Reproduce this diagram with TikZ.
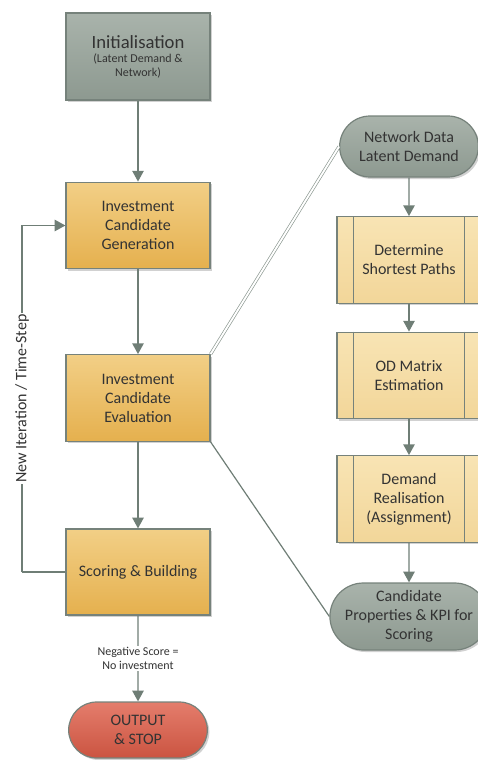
\documentclass[tikz,border=0pt]{standalone}
\usepackage{fontspec}
\setmainfont{Carlito}
\usetikzlibrary{shapes.misc,arrows.meta,shadows}
\definecolor{bordc}{HTML}{76827B}
\definecolor{conc}{HTML}{6F7E76}
\definecolor{txtc}{HTML}{333333}
\definecolor{greyT}{HTML}{A9B3AB}
\definecolor{greyB}{HTML}{8D9990}
\definecolor{orT}{HTML}{F2CF86}
\definecolor{orB}{HTML}{E5B04E}
\definecolor{subT}{HTML}{F8E4B4}
\definecolor{subB}{HTML}{F2D699}
\definecolor{redT}{HTML}{E47D6C}
\definecolor{redB}{HTML}{CB5441}
\tikzset{
  base/.style={draw=bordc, line width=0.9pt, align=center, text=txtc,
    font=\fontsize{12}{14.3}\selectfont, inner sep=2pt,
    drop shadow={shadow xshift=1.5pt, shadow yshift=-1.5pt, opacity=0.3, fill=black!60}},
  greybox/.style={base, rectangle, minimum width=108pt, top color=greyT, bottom color=greyB},
  orangebox/.style={base, rectangle, minimum width=108pt, minimum height=65pt, top color=orT, bottom color=orB},
  subbox/.style={base, rectangle, minimum width=108pt, minimum height=65pt, top color=subT, bottom color=subB},
  greyterm/.style={base, rounded rectangle, minimum width=108pt, top color=greyT, bottom color=greyB},
  redterm/.style={base, rounded rectangle, minimum width=108pt, minimum height=42pt, top color=redT, bottom color=redB},
  conn/.style={draw=conc, line width=1pt, -{Triangle[width=8.5pt,length=8pt]}},
  plain/.style={draw=conc, line width=0.9pt},
}
\begin{document}
\begin{tikzpicture}[x=0.75pt,y=-0.75pt]
\useasboundingbox (0,0) rectangle (478,760);
% left column
\node[greybox, minimum height=65.25pt, font=\fontsize{9}{10}\selectfont] (init) at (138,56.5)
  {{\fontsize{14}{17}\selectfont Initialisation}\\[1pt](Latent Demand \&\\Network)};
\node[orangebox] (gen) at (138,225.5) {Investment\\Candidate\\Generation};
\node[orangebox] (eval) at (138,398) {Investment\\Candidate\\Evaluation};
\node[orangebox, minimum height=64.5pt] (score) at (138,572) {Scoring \& Building};
\node[redterm] (out) at (138,730) {OUTPUT\\\& STOP};
% right column
\node[greyterm, minimum height=45.75pt] (net) at (409,146.5) {Network Data\\Latent Demand};
\node[subbox] (sp) at (409,260) {Determine\\Shortest Paths};
\node[subbox] (od) at (409,375.5) {OD Matrix\\Estimation};
\node[subbox] (dr) at (409,499) {Demand\\Realisation\\(Assignment)};
\node[greyterm, minimum height=50.25pt] (cand) at (409,616.5) {Candidate\\Properties \& KPI for\\Scoring};
% subprocess inner lines
\foreach \n in {sp,od,dr}{
  \draw[bordc, line width=0.9pt] ([xshift=13pt]\n.north west) -- ([xshift=13pt]\n.south west);
  \draw[bordc, line width=0.9pt] ([xshift=-13pt]\n.north east) -- ([xshift=-13pt]\n.south east);
}
% connectors left
\draw[conn] (init) -- (gen);
\draw[conn] (gen) -- (eval);
\draw[conn] (eval) -- (score);
\draw[conn] (score) -- node[fill=white, text=txtc, align=center, font=\fontsize{9}{11}\selectfont, inner sep=1pt] {Negative Score =\\No investment} (out);
\coordinate (lb) at (22,572);
\coordinate (lt) at (22,225.5);
\draw[plain] (score.west) -- (lb);
\draw[conn] (lb) -- node[fill=white, rotate=90, text=txtc, font=\fontsize{12}{14}\selectfont, inner sep=1pt, pos=0.5] {New Iteration / Time-Step} (lt) -- (gen.west);
% connectors right
\draw[conn] (net) -- (sp);
\draw[conn] (sp) -- (od);
\draw[conn] (od) -- (dr);
\draw[conn] (dr) -- (cand);
% zoom lines
\draw[draw=conc!80, line width=0.5pt, double=white, double distance=1.4pt] (eval.north east) -- (net.west);
\draw[plain] (eval.south east) -- (cand.west);
\end{tikzpicture}
\end{document}
